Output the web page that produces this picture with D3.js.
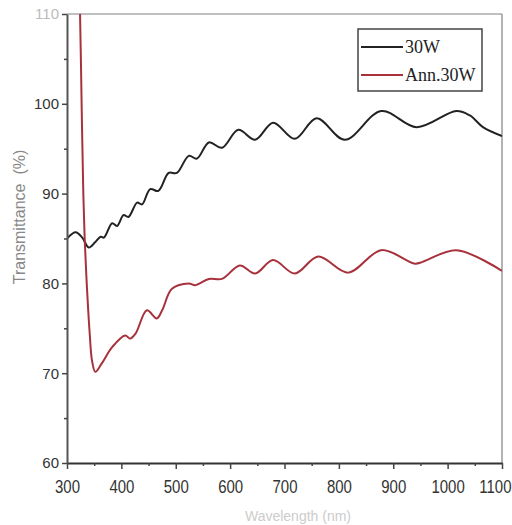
<!DOCTYPE html>
<html>
<head>
<meta charset="utf-8">
<script src="https://cdn.jsdelivr.net/npm/d3@7"></script>
<style>
  body { margin: 0; background: #fff; }
  svg { display: block; }
</style>
</head>
<body>
<div id="chart"></div>
<script>
// values
const wl30 = [300, 316, 328, 340, 352, 362, 368, 383, 392, 404, 413, 429, 438, 453, 468, 487, 502, 524, 539, 561, 585, 615, 646, 679, 719, 759, 811, 878, 943, 1016, 1041, 1065, 1100];
const t30 = [85.0, 85.7, 85.1, 84.0, 84.6, 85.2, 85.1, 86.7, 86.4, 87.6, 87.4, 89.0, 88.8, 90.5, 90.3, 92.3, 92.3, 94.2, 93.9, 95.7, 95.1, 97.1, 96.0, 97.9, 96.1, 98.4, 96.0, 99.2, 97.4, 99.2, 98.7, 97.4, 96.4];

const wlAnn = [320, 324, 327, 330, 333, 337, 342, 346, 352, 364, 383, 407, 416, 426, 447, 465, 475, 493, 524, 536, 561, 585, 618, 646, 679, 719, 762, 817, 878, 940, 954, 1016, 1100];
const tAnn = [118, 110, 99.6, 90, 84.3, 79.2, 74.2, 71.4, 70.15, 71.1, 72.9, 74.2, 73.85, 74.4, 77.0, 76.1, 77.0, 79.4, 80.0, 79.8, 80.5, 80.5, 82.0, 81.1, 82.6, 81.1, 83.0, 81.2, 83.7, 82.2, 82.4, 83.7, 81.4];

const xMajor = [300, 400, 500, 600, 700, 800, 900, 1000, 1100];
const xMinor = [350, 450, 550, 650, 750, 850, 950, 1050];
const yMajor = [60, 70, 80, 90, 100, 110];
const yMinor = [65, 75, 85, 95, 105];

const seriesNames = ['30W', 'Ann.30W'];
const seriesColors = ['#222', '#a8323c'];

const W = 512, H = 525;
const pL = 67, pR = 502, pT = 14, pB = 463;

const x = d3.scaleLinear().domain([300, 1100]).range([pL, pR]);
const y = d3.scaleLinear().domain([60, 110]).range([pB, pT]);

const svg = d3.select('#chart').append('svg')
  .attr('width', W)
  .attr('height', H);

svg.append('clipPath').attr('id', 'plot')
  .append('rect')
  .attr('x', pL).attr('y', pT)
  .attr('width', pR - pL).attr('height', pB - pT);

// frame on top and right
svg.append('line')
  .attr('x1', pL).attr('x2', pR).attr('y1', pT).attr('y2', pT)
  .attr('stroke', '#aaa').attr('stroke-width', 1.5);
svg.append('line')
  .attr('x1', pR).attr('x2', pR).attr('y1', pT).attr('y2', pB)
  .attr('stroke', '#999').attr('stroke-width', 1.5);

const line = d3.line()
  .x(d => x(d[0]))
  .y(d => y(d[1]))
  .curve(d3.curveCatmullRom.alpha(0.5));

const series = [
  d3.zip(wl30, t30),
  d3.zip(wlAnn, tAnn)
];

svg.append('g')
  .attr('clip-path', 'url(#plot)')
  .selectAll('path')
  .data(series)
  .enter().append('path')
  .attr('d', line)
  .attr('fill', 'none')
  .attr('stroke', (d, i) => seriesColors[i])
  .attr('stroke-width', 2);

// axes
const xAxis = svg.append('g')
  .attr('transform', `translate(0,${pB})`)
  .call(d3.axisBottom(x).tickValues(xMajor).tickFormat(d3.format('d'))
    .tickSize(6).tickPadding(10).tickSizeOuter(0));
svg.append('g')
  .attr('transform', `translate(0,${pB})`)
  .call(d3.axisBottom(x).tickValues(xMinor).tickSize(3).tickFormat('').tickSizeOuter(0))
  .select('.domain').remove();

const yAxis = svg.append('g')
  .attr('transform', `translate(${pL},0)`)
  .call(d3.axisLeft(y).tickValues(yMajor).tickSize(5).tickPadding(3).tickSizeOuter(0));
svg.append('g')
  .attr('transform', `translate(${pL},0)`)
  .call(d3.axisLeft(y).tickValues(yMinor).tickSize(3).tickFormat('').tickSizeOuter(0))
  .select('.domain').remove();

svg.selectAll('.tick line').attr('stroke', '#444').attr('stroke-width', 1.5);
xAxis.select('.domain').attr('stroke', '#333').attr('stroke-width', 2);
yAxis.select('.domain').attr('stroke', '#555').attr('stroke-width', 2);

svg.selectAll('.tick text')
  .attr('font-family', 'Liberation Sans, Arial, sans-serif')
  .attr('font-size', 15)
  .attr('fill', '#333');
xAxis.selectAll('.tick text')
  .attr('transform', 'scale(1,1.2)')
  .attr('dy', '0.6em');
// last label sits against the right edge
xAxis.selectAll('.tick text')
  .filter(d => d === 1100)
  .attr('text-anchor', 'end')
  .attr('x', W - pR - 1);
yAxis.selectAll('.tick text')
  .filter(d => d === 110)
  .attr('fill', '#bbb');

// axis titles
svg.append('text')
  .attr('transform', 'translate(25,217) rotate(-90)')
  .attr('text-anchor', 'middle')
  .attr('font-family', 'Liberation Sans, Arial, sans-serif')
  .attr('font-size', 16)
  .attr('fill', '#888')
  .text('Transmittance\u00a0\u00a0(%)');

svg.append('text')
  .attr('x', 298).attr('y', 521)
  .attr('text-anchor', 'middle')
  .attr('font-family', 'Liberation Sans, Arial, sans-serif')
  .attr('font-size', 14)
  .attr('fill', '#ccc')
  .text('Wavelength (nm)');

// legend
const legend = svg.append('g');
legend.append('rect')
  .attr('x', 358).attr('y', 29)
  .attr('width', 124).attr('height', 62)
  .attr('fill', '#fff')
  .attr('stroke', '#444')
  .attr('stroke-width', 1.5);

const item = legend.selectAll('g.item')
  .data(seriesNames)
  .enter().append('g')
  .attr('class', 'item')
  .attr('transform', (d, i) => `translate(0,${47 + i * 28})`);

item.append('line')
  .attr('x1', 361).attr('x2', 403)
  .attr('stroke', (d, i) => seriesColors[i])
  .attr('stroke-width', 2);

item.append('text')
  .attr('x', 405).attr('y', 6)
  .attr('font-family', 'Liberation Serif, Times New Roman, serif')
  .attr('font-size', 18)
  .attr('fill', '#222')
  .text(d => d);
</script>
</body>
</html>
